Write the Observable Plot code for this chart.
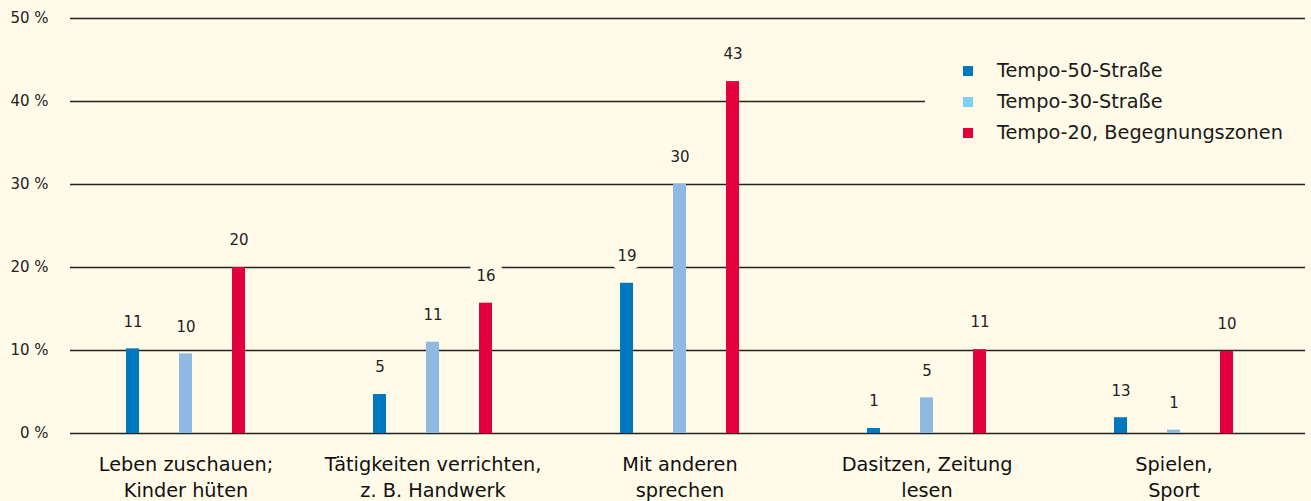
<!DOCTYPE html>
<html>
<head>
<meta charset="utf-8">
<script src="https://cdn.jsdelivr.net/npm/d3@7"></script>
<script src="https://cdn.jsdelivr.net/npm/@observablehq/plot@0.6"></script>
<style>
  html, body { margin: 0; padding: 0; background: #fffbe8; }
  #wrap { position: relative; width: 1311px; height: 501px; }
  #legend {
    position: absolute; left: 925px; top: 44px; width: 380px; height: 112px;
    background: #fffbe8; font-family: "DejaVu Sans", sans-serif;
    font-size: 19.3px; color: #1a1a1a;
  }
  .item { position: absolute; left: 38px; height: 31px; line-height: 31px; white-space: nowrap; }
  .sw { display: inline-block; width: 10px; height: 10px; margin-right: 24px; vertical-align: 1px; }
</style>
</head>
<body>
<div id="wrap"></div>
<script>
const categories = [
  "Leben zuschauen;\nKinder hüten",
  "Tätigkeiten verrichten,\nz. B. Handwerk",
  "Mit anderen\nsprechen",
  "Dasitzen, Zeitung\nlesen",
  "Spielen,\nSport"
];
const series = ["Tempo-50-Straße", "Tempo-30-Straße", "Tempo-20, Begegnungszonen"];
const tempo50 = [10.2, 4.7, 18.1, 0.6, 1.9];
const tempo30 = [9.6, 11.0, 30.0, 4.3, 0.4];
const tempo20 = [20.0, 15.7, 42.4, 10.1, 9.9];
const labels50 = ["11", "5", "19", "1", "13"];
const labels30 = ["10", "11", "30", "5", "1"];
const labels20 = ["20", "16", "43", "11", "10"];
const yTicks = [0, 10, 20, 30, 40, 50];
const barColors = ["#0078bf", "#8db9e3", "#e4003f"];
const legendColors = ["#0078bf", "#80cff5", "#e4003f"];

const values = [tempo50, tempo30, tempo20];
const labels = [labels50, labels30, labels20];
const rows = [];
categories.forEach((c, i) => {
  series.forEach((s, j) => {
    rows.push({category: c, series: s, value: values[j][i], label: labels[j][i]});
  });
});

// grid rules per facet (first and last facet extend slightly past the frame edge)
const gridRows = categories.flatMap((c, i) => yTicks.map(t => ({category: c, idx: i, tick: t})));
const gridFirst = gridRows.filter(d => d.idx === 0);
const gridMid = gridRows.filter(d => d.idx > 0 && d.idx < categories.length - 1);
const gridLast = gridRows.filter(d => d.idx === categories.length - 1);

const bg = "#fffbe8";
const gridStyle = {fx: "category", y: "tick", stroke: "#222", strokeWidth: 1.3};
const chart = Plot.plot({
  width: 1311,
  height: 501,
  marginTop: 18,
  marginBottom: 68,
  marginLeft: 62,
  marginRight: 14,
  style: {background: bg, fontFamily: "'DejaVu Sans', sans-serif", color: "#222"},
  fx: {domain: categories, padding: 0, label: null, axis: null},
  x: {domain: series, paddingInner: 0.755, paddingOuter: 1.205, axis: null},
  y: {domain: [0, 50], label: null, axis: null},
  color: {domain: series, range: barColors},
  marks: [
    Plot.ruleY(gridFirst, {...gridStyle, insetLeft: 8}),
    Plot.ruleY(gridMid, gridStyle),
    Plot.ruleY(gridLast, {...gridStyle, insetRight: -8}),
    Plot.barY(rows, {fx: "category", x: "series", y: "value", fill: "series"}),
    Plot.text(rows, {
      fx: "category", x: "series", y: "value", text: "label", dy: -27,
      fontSize: 15, fill: "#222", stroke: bg, strokeWidth: 16,
      paintOrder: "stroke", strokeLinejoin: "round"
    }),
    Plot.axisY({ticks: yTicks, tickSize: 0, tickPadding: 14, tickFormat: d => `${d} %`, fontSize: 15, label: null, fill: "#222"}),
    Plot.axisFx({anchor: "bottom", tickSize: 0, tickPadding: 19, fontSize: 19.3, lineHeight: 1.35, label: null, fill: "#111"})
  ]
});

const wrap = document.getElementById("wrap");
wrap.appendChild(chart);

const legend = document.createElement("div");
legend.id = "legend";
series.forEach((s, j) => {
  const it = document.createElement("div");
  it.className = "item";
  it.style.top = (11 + j * 31) + "px";
  const sw = document.createElement("span");
  sw.className = "sw";
  sw.style.background = legendColors[j];
  it.appendChild(sw);
  it.appendChild(document.createTextNode(s));
  legend.appendChild(it);
});
wrap.appendChild(legend);
</script>
</body>
</html>
